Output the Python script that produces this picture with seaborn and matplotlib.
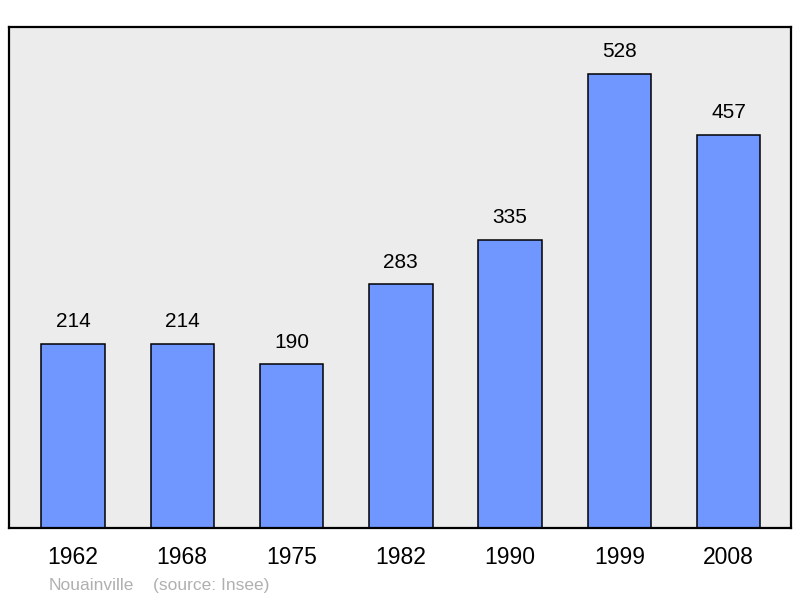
import matplotlib
matplotlib.use("Agg")
import matplotlib.pyplot as plt
import seaborn as sns
import pandas as pd

years = ["1962", "1968", "1975", "1982", "1990", "1999", "2008"]
population = [214, 214, 190, 283, 335, 528, 457]
commune = "Nouainville"
source = "(source: Insee)"

sns.set_theme(style="white")
plt.rcParams["font.family"] = ["Liberation Sans", "DejaVu Sans"]

df = pd.DataFrame({"year": years, "pop": population})

fig = plt.figure(figsize=(8, 5.98), dpi=100)
ax = fig.add_axes([0.01125, 0.117, 0.9775, 0.8378])
ax.set_facecolor("#ececec")

sns.barplot(
    data=df,
    x="year",
    y="pop",
    color="#7096ff",
    saturation=1,
    width=0.58,
    edgecolor="black",
    linewidth=1.1,
    ax=ax,
)

for i, v in enumerate(population):
    ax.annotate(
        str(v),
        (i, v),
        xytext=(0, 9),
        textcoords="offset points",
        ha="center",
        va="bottom",
        fontsize=15,
        color="black",
    )

ax.set_xlim(-0.585, 6.57)
ax.set_ylim(0, 582)
ax.set_xlabel("")
ax.set_ylabel("")
ax.set_yticks([])
ax.tick_params(axis="x", length=0, labelsize=16.5, pad=13, colors="black")

for sp in ax.spines.values():
    sp.set_color("black")
    sp.set_linewidth(1.6)

# footer: commune name + source, same baseline
fig.text(49 / 800, 1 - 590 / 598, commune, fontsize=12.5, color="#b0b0b0", va="baseline")
fig.text(153 / 800, 1 - 590 / 598, source, fontsize=12.5, color="#b0b0b0", va="baseline")

fig.savefig("out.png", dpi=100, facecolor="white")
